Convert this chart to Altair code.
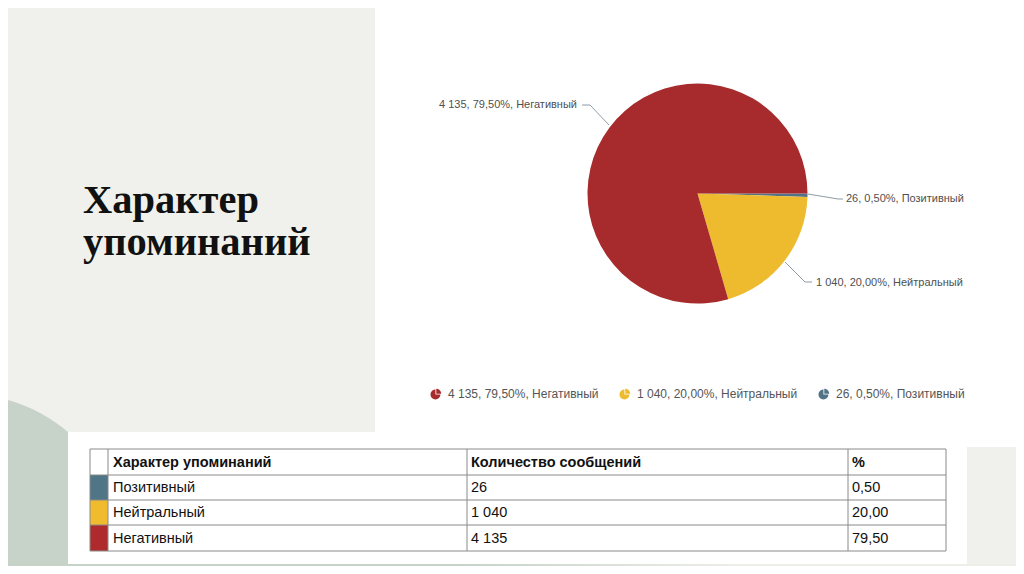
import math
import altair as alt
import pandas as pd

# ---------------- data ----------------
names = ["Позитивный", "Нейтральный", "Негативный"]
counts = [26, 1040, 4135]
percents = [0.50, 20.00, 79.50]
slice_order = [0, 1, 2]
pie_colors = ["#527486", "#eebb2e", "#a72b2c"]
table_colors = ["#4f7587", "#f0bb2c", "#ae2a2c"]
table_headers = ["Характер упоминаний", "Количество сообщений", "%"]
title_lines = ["Характер", "упоминаний"]


def fmt_count(c):
    return f"{c:,}".replace(",", " ")


def fmt_pct(p):
    return f"{p:.2f}".replace(".", ",")


labels = [f"{fmt_count(c)}, {fmt_pct(p)}%, {n}" for n, c, p in zip(names, counts, percents)]

df = pd.DataFrame({
    "name": names,
    "count": counts,
    "order": slice_order,
    "label": labels,
    "count_str": [fmt_count(c) for c in counts],
    "pct_str": [fmt_pct(p) for p in percents],
})

# page coords -> chart coords (page has an 8px margin)
O = 8


def X(v):
    return v - O


def Y(v):
    return v - O


ONE = alt.InlineData(values=[{"k": 1}])


def rect(x1, y1, x2, y2, color):
    return alt.Chart(ONE).mark_rect(color=color).encode(
        x=alt.value(X(x1)), x2=alt.value(X(x2)), y=alt.value(Y(y1)), y2=alt.value(Y(y2))
    )


def rule(x1, y1, x2, y2, color, w=1):
    return alt.Chart(ONE).mark_rule(color=color, strokeWidth=w).encode(
        x=alt.value(X(x1)), x2=alt.value(X(x2)), y=alt.value(Y(y1)), y2=alt.value(Y(y2))
    )


layers = []

# ---------------- slide background ----------------
sage = "#c7d2c9"
light = "#f0f1ec"
layers.append(
    alt.Chart(ONE).mark_point(
        shape="M0,398 C28,404 50,417 68,432 L68,574 L0,574 Z",
        size=4, filled=True, opacity=1, color=sage, strokeWidth=0,
    ).encode(x=alt.value(-O), y=alt.value(-O))
)
layers.append(
    alt.Chart(ONE).mark_rect(
        color=alt.Gradient(
            gradient="linear",
            stops=[
                alt.GradientStop(color=sage, offset=0),
                alt.GradientStop(color=sage, offset=0.45),
                alt.GradientStop(color="#eceee8", offset=0.72),
                alt.GradientStop(color="#eceee8", offset=1),
            ],
            x1=0, x2=1, y1=0, y2=0,
        )
    ).encode(x=alt.value(X(0)), x2=alt.value(X(1024)), y=alt.value(Y(564)), y2=alt.value(Y(574)))
)
layers.append(rect(375, 0, 1020, 447, "#ffffff"))
layers.append(rect(68, 432, 967, 564, "#ffffff"))

# ---------------- title ----------------
layers.append(
    alt.Chart(ONE).mark_text(
        text=title_lines, font="Liberation Serif", fontSize=40.5, fontWeight="bold",
        color="#111111", align="left", baseline="alphabetic", lineHeight=42,
    ).encode(x=alt.value(X(83)), y=alt.value(Y(213)))
)

# ---------------- pie ----------------
pie_path = (
    "M-0.1,0.1 L-0.1,-0.8 A0.9,0.9 0 1,0 0.8,0.1 Z "
    "M0.05,-0.05 L0.95,-0.05 A0.9,0.9 0 0,0 0.05,-0.95 Z"
)
legend_domain = [labels[2], labels[1], labels[0]]
legend_range = [pie_colors[2], pie_colors[1], pie_colors[0]]

pie = alt.Chart(df).mark_arc(radius=110, stroke=None).encode(
    theta=alt.Theta("count:Q", stack=True, scale=alt.Scale(range=[math.pi / 2, math.pi / 2 + 2 * math.pi])),
    order=alt.Order("order:Q"),
    color=alt.Color(
        "label:N",
        scale=alt.Scale(domain=legend_domain, range=legend_range),
        legend=alt.Legend(
            orient="none", legendX=X(430), legendY=Y(388), direction="horizontal",
            columns=3, title=None, symbolType=pie_path, symbolSize=121,
            symbolStrokeWidth=0, labelFont="Liberation Sans", labelFontSize=12,
            labelColor="#555555", labelOffset=6, columnPadding=20, padding=0,
            labelLimit=400,
        ),
    ),
    x=alt.value(X(697.5)),
    y=alt.value(Y(193.5)),
)
layers.append(pie)

# pie labels and leader lines
lead = "#8d9ca6"
lab_font = dict(font="Liberation Sans", fontSize=11, color="#505050", baseline="middle")
label_specs = [
    ("Негативный", "right", 577, 105, [(582, 105, 590, 105), (590, 105, 609, 125)]),
    ("Позитивный", "left", 846, 199, [(808, 194, 838, 199), (838, 199, 843, 199)]),
    ("Нейтральный", "left", 816, 283, [(785, 262, 805, 282), (805, 282, 812, 282)]),
]
for nm, al, lx, ly, segs in label_specs:
    layers.append(
        alt.Chart(df).transform_filter(alt.datum.name == nm).mark_text(align=al, **lab_font).encode(
            text="label:N", x=alt.value(X(lx)), y=alt.value(Y(ly))
        )
    )
    for s in segs:
        layers.append(rule(*s, color=lead))

# ---------------- table ----------------
row_edges = [449, 475, 500, 525, 551]
col_edges = [90, 108, 467, 848, 946]
text_x = [113, 471, 852]
tfont = dict(font="Liberation Sans", fontSize=14.5, color="#111111", baseline="middle", align="left")

for i, nm in enumerate(names):
    layers.append(rect(col_edges[0], row_edges[i + 1], col_edges[1], row_edges[i + 2], table_colors[i]))

for j, h in enumerate(table_headers):
    layers.append(
        alt.Chart(ONE).mark_text(text=h, fontWeight="bold", **tfont).encode(
            x=alt.value(X(text_x[j])), y=alt.value(Y((row_edges[0] + row_edges[1]) / 2 + 0.5))
        )
    )

for i, nm in enumerate(names):
    yc = (row_edges[i + 1] + row_edges[i + 2]) / 2 + 0.5
    for j, field in enumerate(["name", "count_str", "pct_str"]):
        layers.append(
            alt.Chart(df).transform_filter(alt.datum.name == nm).mark_text(**tfont).encode(
                text=f"{field}:N", x=alt.value(X(text_x[j])), y=alt.value(Y(yc))
            )
        )

grid = "#8a8a8a"
for ry in row_edges:
    layers.append(rule(col_edges[0], ry, col_edges[-1], ry, grid))
for cx in col_edges:
    layers.append(rule(cx, row_edges[0], cx, row_edges[-1], grid))

chart = alt.layer(*layers).properties(
    width=1008, height=558, padding=0, autosize="none", background=light
).configure_view(stroke=None)

chart.save("out.html", embed_options={"renderer": "svg", "actions": False})
